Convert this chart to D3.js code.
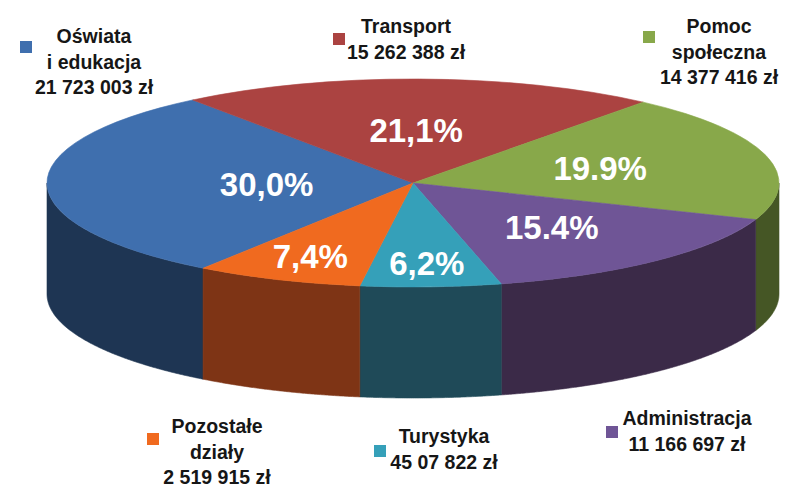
<!DOCTYPE html>
<html>
<head>
<meta charset="utf-8">
<script src="https://cdn.jsdelivr.net/npm/d3@7"></script>
<style>
  body { margin: 0; background: #fff; }
  text { font-family: "Liberation Sans", Arial, sans-serif; font-weight: bold; }
</style>
</head>
<body>
<div id="chart"></div>
<script>
// data
const categories = ["Oświata i edukacja", "Transport", "Pomoc społeczna", "Administracja", "Turystyka", "Pozostałe działy"];
const nameLines = [["Oświata", "i edukacja"], ["Transport"], ["Pomoc", "społeczna"], ["Administracja"], ["Turystyka"], ["Pozostałe", "działy"]];
const shares = [30.0, 21.1, 19.9, 15.4, 6.2, 7.4];
const shareLabels = ["30,0%", "21,1%", "19.9%", "15.4%", "6,2%", "7,4%"];
const amountLabels = ["21 723 003 zł", "15 262 388 zł", "14 377 416 zł", "11 166 697 zł", "45 07 822 zł", "2 519 915 zł"];

// styling / layout
const topColors = ["#3f6fae", "#ab4341", "#88a84a", "#6f5596", "#35a0b9", "#f06a1f"];
const sideColors = ["#1e3553", "#5a2220", "#455625", "#3b2a48", "#1f4a58", "#7e3415"];
const labelRadius = [0.40, 0.51, 0.53, 0.57, 0.77, 0.76];
// legend text centre / first baseline, marker top-left
const legendLayout = [
  { x: 94, y: 43, mx: 20, my: 41 },
  { x: 406, y: 33, mx: 333, my: 33 },
  { x: 719, y: 33, mx: 643, my: 31 },
  { x: 687, y: 425, mx: 606, my: 426 },
  { x: 444, y: 443, mx: 374, my: 445 },
  { x: 217, y: 433, mx: 147, my: 433 }
];

const width = 798, height = 488;
const cx = 413, cy = 183, rx = 366, ry = 104, depth = 111;

const svg = d3.select("#chart").append("svg")
  .attr("width", width)
  .attr("height", height);

const pie = d3.pie()
  .sort(null)
  .value(d => d)
  .startAngle(215 * Math.PI / 180)
  .endAngle(215 * Math.PI / 180 + 2 * Math.PI);

const arcs = pie(shares);

// side walls (front half only)
const wall = d3.area()
  .x(a => cx + rx * Math.sin(a))
  .y0(a => cy - ry * Math.cos(a))
  .y1(a => cy - ry * Math.cos(a) + depth);

const walls = svg.append("g");
arcs.forEach((d, i) => {
  for (let k = 0; k < 2; k++) {
    const lo = Math.max(d.startAngle, Math.PI / 2 + 2 * Math.PI * k);
    const hi = Math.min(d.endAngle, 3 * Math.PI / 2 + 2 * Math.PI * k);
    if (hi > lo) {
      const angles = d3.range(lo, hi, 0.005).concat([hi]);
      walls.append("path")
        .attr("d", wall(angles))
        .attr("fill", sideColors[i])
        .attr("stroke", sideColors[i])
        .attr("stroke-width", 0.6);
    }
  }
});

// top surface
const arc = d3.arc().innerRadius(0).outerRadius(rx);
svg.append("g")
  .attr("transform", `translate(${cx},${cy}) scale(1,${ry / rx})`)
  .selectAll("path")
  .data(arcs)
  .join("path")
  .attr("d", arc)
  .attr("fill", (d, i) => topColors[i])
  .attr("stroke", (d, i) => topColors[i])
  .attr("stroke-width", 0.6)
  .attr("vector-effect", "non-scaling-stroke");

// percentage labels
svg.append("g")
  .selectAll("text")
  .data(arcs)
  .join("text")
  .attr("x", (d, i) => {
    const m = (d.startAngle + d.endAngle) / 2;
    return cx + labelRadius[i] * rx * Math.sin(m);
  })
  .attr("y", (d, i) => {
    const m = (d.startAngle + d.endAngle) / 2;
    return cy - labelRadius[i] * ry * Math.cos(m);
  })
  .attr("dy", "0.36em")
  .attr("text-anchor", "middle")
  .attr("fill", "#ffffff")
  .attr("font-size", 33)
  .text((d, i) => shareLabels[i]);

// legend labels round the pie
const legend = svg.append("g");
categories.forEach((c, i) => {
  const L = legendLayout[i];
  legend.append("rect")
    .attr("x", L.mx)
    .attr("y", L.my)
    .attr("width", 12)
    .attr("height", 12)
    .attr("fill", topColors[i]);
  const lines = nameLines[i].concat([amountLabels[i]]);
  const t = legend.append("text")
    .attr("text-anchor", "middle")
    .attr("font-size", 19.5)
    .attr("fill", "#161616");
  lines.forEach((s, j) => {
    t.append("tspan")
      .attr("x", L.x)
      .attr("y", L.y + j * 25.5)
      .text(s);
  });
});
</script>
</body>
</html>
